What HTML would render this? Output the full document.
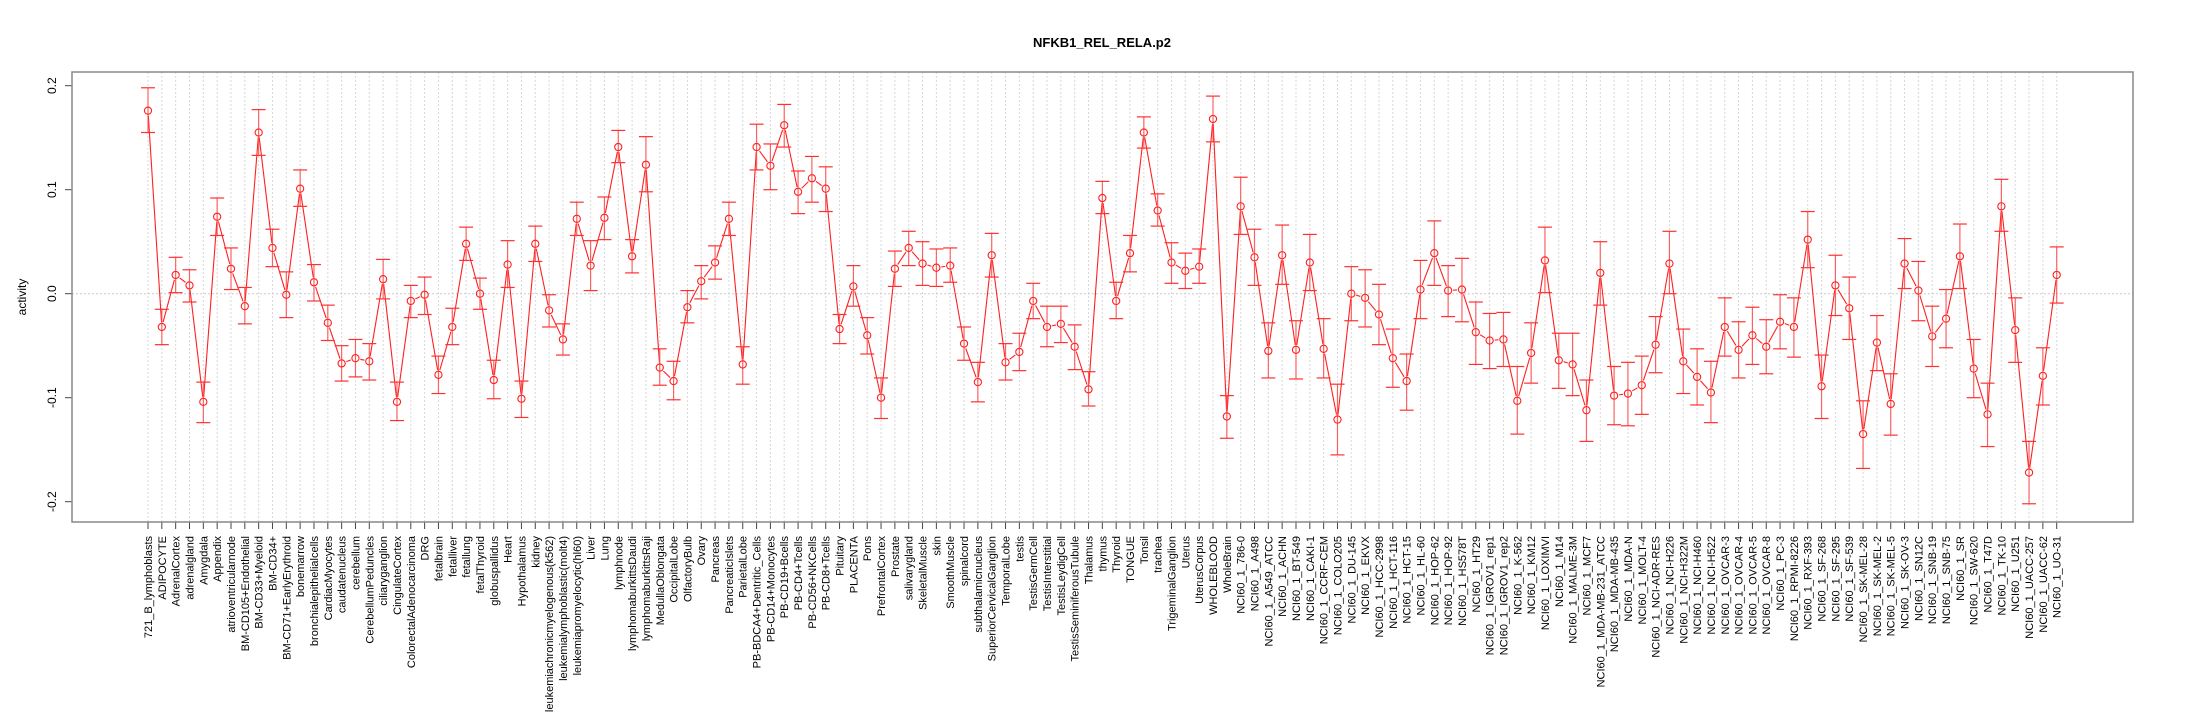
<!DOCTYPE html>
<html><head><meta charset="utf-8"><style>
html,body{margin:0;padding:0;background:#fff;}
svg{display:block;font-family:"Liberation Sans",sans-serif;}
</style></head><body>
<svg id="chart" width="2205" height="720" viewBox="0 0 2205 720" xmlns="http://www.w3.org/2000/svg">
<rect x="0" y="0" width="2205" height="720" fill="#fff"/>
<text x="1102" y="47" text-anchor="middle" font-size="13" font-weight="bold">NFKB1_REL_RELA.p2</text>
<text transform="translate(26,297) rotate(-90)" text-anchor="middle" font-size="12">activity</text>
<g id="grid"></g><g id="series"></g><g id="axes"></g>
<rect x="72" y="72" width="2061" height="450" fill="none" stroke="#888" stroke-width="1.5"/>
</svg>
<script>
const categories = ["721_B_lymphoblasts","ADIPOCYTE","AdrenalCortex","adrenalgland","Amygdala","Appendix","atrioventricularnode","BM-CD105+Endothelial","BM-CD33+Myeloid","BM-CD34+","BM-CD71+EarlyErythroid","bonemarrow","bronchialepithelialcells","CardiacMyocytes","caudatenucleus","cerebellum","CerebellumPeduncles","ciliaryganglion","CingulateCortex","ColorectalAdenocarcinoma","DRG","fetalbrain","fetalliver","fetallung","fetalThyroid","globuspallidus","Heart","Hypothalamus","kidney","leukemiachronicmyelogenous(k562)","leukemialymphoblastic(molt4)","leukemiapromyelocytic(hl60)","Liver","Lung","lymphnode","lymphomaburkittsDaudi","lymphomaburkittsRaji","MedullaOblongata","OccipitalLobe","OlfactoryBulb","Ovary","Pancreas","PancreaticIslets","ParietalLobe","PB-BDCA4+Dentritic_Cells","PB-CD14+Monocytes","PB-CD19+Bcells","PB-CD4+Tcells","PB-CD56+NKCells","PB-CD8+Tcells","Pituitary","PLACENTA","Pons","PrefrontalCortex","Prostate","salivarygland","SkeletalMuscle","skin","SmoothMuscle","spinalcord","subthalamicnucleus","SuperiorCervicalGanglion","TemporalLobe","testis","TestisGermCell","TestisInterstitial","TestisLeydigCell","TestisSeminiferousTubule","Thalamus","thymus","Thyroid","TONGUE","Tonsil","trachea","TrigeminalGanglion","Uterus","UterusCorpus","WHOLEBLOOD","WholeBrain","NCI60_1_786-0","NCI60_1_A498","NCI60_1_A549_ATCC","NCI60_1_ACHN","NCI60_1_BT-549","NCI60_1_CAKI-1","NCI60_1_CCRF-CEM","NCI60_1_COLO205","NCI60_1_DU-145","NCI60_1_EKVX","NCI60_1_HCC-2998","NCI60_1_HCT-116","NCI60_1_HCT-15","NCI60_1_HL-60","NCI60_1_HOP-62","NCI60_1_HOP-92","NCI60_1_HS578T","NCI60_1_HT29","NCI60_1_IGROV1_rep1","NCI60_1_IGROV1_rep2","NCI60_1_K-562","NCI60_1_KM12","NCI60_1_LOXIMVI","NCI60_1_M14","NCI60_1_MALME-3M","NCI60_1_MCF7","NCI60_1_MDA-MB-231_ATCC","NCI60_1_MDA-MB-435","NCI60_1_MDA-N","NCI60_1_MOLT-4","NCI60_1_NCI-ADR-RES","NCI60_1_NCI-H226","NCI60_1_NCI-H322M","NCI60_1_NCI-H460","NCI60_1_NCI-H522","NCI60_1_OVCAR-3","NCI60_1_OVCAR-4","NCI60_1_OVCAR-5","NCI60_1_OVCAR-8","NCI60_1_PC-3","NCI60_1_RPMI-8226","NCI60_1_RXF-393","NCI60_1_SF-268","NCI60_1_SF-295","NCI60_1_SF-539","NCI60_1_SK-MEL-28","NCI60_1_SK-MEL-2","NCI60_1_SK-MEL-5","NCI60_1_SK-OV-3","NCI60_1_SN12C","NCI60_1_SNB-19","NCI60_1_SNB-75","NCI60_1_SR","NCI60_1_SW-620","NCI60_1_T47D","NCI60_1_TK-10","NCI60_1_U251","NCI60_1_UACC-257","NCI60_1_UACC-62","NCI60_1_UO-31"];
const values = [0.176,-0.032,0.018,0.008,-0.104,0.074,0.024,-0.012,0.155,0.044,-0.001,0.101,0.011,-0.028,-0.067,-0.062,-0.065,0.014,-0.104,-0.007,-0.001,-0.078,-0.032,0.048,0,-0.083,0.028,-0.101,0.048,-0.016,-0.044,0.072,0.027,0.073,0.141,0.036,0.124,-0.071,-0.084,-0.013,0.012,0.030,0.072,-0.068,0.141,0.123,0.162,0.098,0.111,0.101,-0.034,0.007,-0.040,-0.100,0.024,0.044,0.029,0.025,0.027,-0.048,-0.085,0.037,-0.066,-0.056,-0.007,-0.032,-0.029,-0.051,-0.092,0.092,-0.007,0.039,0.155,0.080,0.030,0.022,0.026,0.168,-0.118,0.084,0.035,-0.055,0.037,-0.054,0.030,-0.053,-0.121,0,-0.004,-0.020,-0.062,-0.084,0.004,0.039,0.003,0.004,-0.037,-0.045,-0.044,-0.103,-0.057,0.032,-0.064,-0.068,-0.112,0.020,-0.098,-0.096,-0.088,-0.049,0.029,-0.065,-0.080,-0.095,-0.032,-0.054,-0.040,-0.051,-0.027,-0.032,0.052,-0.089,0.008,-0.014,-0.135,-0.047,-0.106,0.029,0.003,-0.041,-0.024,0.036,-0.072,-0.116,0.084,-0.035,-0.172,-0.079,0.018];
const upper = [0.198,-0.015,0.035,0.023,-0.085,0.092,0.044,0.006,0.177,0.062,0.021,0.119,0.028,-0.011,-0.050,-0.044,-0.048,0.033,-0.085,0.008,0.016,-0.060,-0.014,0.064,0.015,-0.064,0.051,-0.084,0.065,-0.001,-0.029,0.088,0.051,0.093,0.157,0.052,0.151,-0.053,-0.065,0.003,0.027,0.046,0.088,-0.051,0.163,0.144,0.182,0.118,0.132,0.122,-0.020,0.027,-0.023,-0.081,0.041,0.060,0.050,0.043,0.044,-0.032,-0.066,0.058,-0.048,-0.038,0.010,-0.012,-0.012,-0.030,-0.075,0.108,0.011,0.056,0.170,0.096,0.049,0.039,0.043,0.190,-0.098,0.112,0.062,-0.028,0.066,-0.026,0.057,-0.024,-0.087,0.026,0.023,0.009,-0.034,-0.058,0.032,0.070,0.027,0.034,-0.008,-0.019,-0.018,-0.070,-0.028,0.064,-0.038,-0.038,-0.083,0.050,-0.070,-0.066,-0.060,-0.022,0.060,-0.034,-0.053,-0.065,-0.004,-0.027,-0.013,-0.025,-0.001,-0.004,0.079,-0.059,0.037,0.016,-0.103,-0.021,-0.077,0.053,0.031,-0.012,0.004,0.067,-0.044,-0.086,0.110,-0.004,-0.142,-0.052,0.045];
const lower = [0.155,-0.049,0.001,-0.008,-0.124,0.056,0.004,-0.029,0.133,0.026,-0.023,0.084,-0.007,-0.045,-0.084,-0.080,-0.083,-0.005,-0.122,-0.023,-0.020,-0.096,-0.049,0.032,-0.015,-0.101,0.006,-0.119,0.031,-0.032,-0.059,0.056,0.003,0.052,0.126,0.020,0.098,-0.088,-0.102,-0.028,-0.005,0.014,0.056,-0.087,0.119,0.100,0.141,0.077,0.088,0.079,-0.048,-0.012,-0.058,-0.120,0.007,0.027,0.008,0.007,0.011,-0.064,-0.104,0.016,-0.083,-0.074,-0.024,-0.051,-0.047,-0.073,-0.108,0.077,-0.024,0.021,0.140,0.065,0.010,0.005,0.010,0.146,-0.139,0.057,0.008,-0.081,0.009,-0.082,0.003,-0.081,-0.155,-0.026,-0.032,-0.049,-0.090,-0.112,-0.024,0.008,-0.022,-0.027,-0.068,-0.072,-0.070,-0.135,-0.086,0.001,-0.091,-0.098,-0.142,-0.011,-0.126,-0.127,-0.116,-0.076,0,-0.096,-0.107,-0.124,-0.060,-0.081,-0.068,-0.077,-0.053,-0.061,0.025,-0.120,-0.021,-0.044,-0.168,-0.074,-0.136,0.005,-0.026,-0.070,-0.052,0.005,-0.100,-0.147,0.060,-0.066,-0.202,-0.107,-0.009];
const yTicks = [-0.2,-0.1,0.0,0.1,0.2];
const yTickLabels = ["-0.2","-0.1","0.0","0.1","0.2"];

const NS = "http://www.w3.org/2000/svg";
const X0 = 148, DX = (2056.7 - 148) / 138, Y0 = 293.7, YS = 1040;
function xScale(i){ return X0 + i * DX; }
function yScale(v){ return Y0 - v * YS; }
function mk(tag, attrs, parent){ const e = document.createElementNS(NS, tag); for (const k in attrs) e.setAttribute(k, attrs[k]); parent.appendChild(e); return e; }
const grid = document.getElementById('grid'), series = document.getElementById('series'), axes = document.getElementById('axes');

categories.forEach((c, i) => {
  const x = xScale(i);
  const g = mk('line', {x1:x, x2:x, y1:72, y2:522, stroke:'#d8d8d8', 'stroke-dasharray':'2,2', 'stroke-width':1}, grid);
  
  
  const t = mk('line', {x1:x, x2:x, y1:522, y2:529, stroke:'#444', 'stroke-width':1}, axes);
  
  
  const lb = mk('text', {transform:`translate(${x+4},536) rotate(-90)`, 'text-anchor':'end', 'font-size':'11'}, axes);
  lb.textContent = c;
  
  
});
const zl = mk('line', {x1:72, x2:2133, y1:yScale(0), y2:yScale(0), stroke:'#ccc', 'stroke-dasharray':'2,2'}, grid);



yTicks.forEach((v, k) => {
  const y = yScale(v);
  const t = mk('line', {x1:65, x2:72, y1:y, y2:y, stroke:'#444'}, axes);
  
  
  const lb = mk('text', {transform:`translate(56,${y}) rotate(-90)`, 'text-anchor':'middle', 'font-size':'12'}, axes);
  lb.textContent = yTickLabels[k];
  
  
});

for (let i = 0; i < values.length - 1; i++) {
  const x1 = xScale(i), y1 = yScale(values[i]), x2 = xScale(i+1), y2 = yScale(values[i+1]);
  const dx = x2 - x1, dy = y2 - y1, L = Math.hypot(dx, dy), g = 5;
  if (L <= 2 * g) continue;
  const s = mk('line', {x1:x1+dx*g/L, y1:y1+dy*g/L, x2:x2-dx*g/L, y2:y2-dy*g/L, stroke:'#ff2020', 'stroke-width':1.1}, series);
  
  
}
values.forEach((v, i) => {
  const x = xScale(i), yu = yScale(upper[i]), yl = yScale(lower[i]);
  const eb = mk('line', {x1:x, x2:x, y1:yu, y2:yl, stroke:'#ff4a4a', 'stroke-width':1.2, opacity:0.85}, series);
  
  
  const cu = mk('line', {x1:x-7, x2:x+7, y1:yu, y2:yu, stroke:'#ff3030', 'stroke-width':1.2}, series);
  
  
  const cl = mk('line', {x1:x-7, x2:x+7, y1:yl, y2:yl, stroke:'#ff3030', 'stroke-width':1.2}, series);
  
  
  const p = mk('circle', {cx:x, cy:yScale(v), r:3.6, fill:'none', stroke:'#ff2020', 'stroke-width':1.1}, series);
  
  
});
</script>
</body></html>
